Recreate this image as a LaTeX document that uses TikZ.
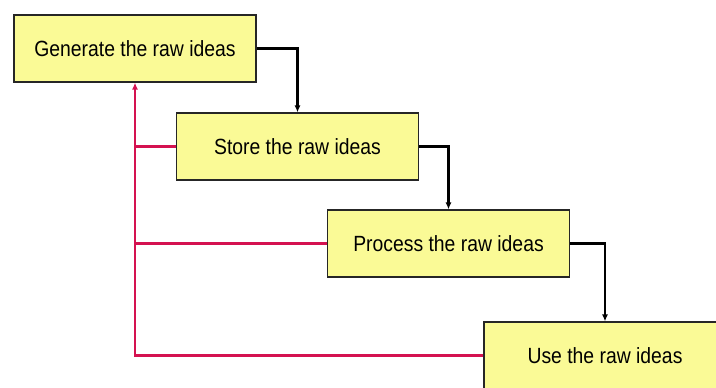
\documentclass[tikz,border=0pt]{standalone}
\usepackage{fontspec}
\setmainfont{Liberation Sans}[FakeStretch=0.88]
\usetikzlibrary{arrows.meta}
\definecolor{boxfill}{RGB}{250,250,150}
\definecolor{loopred}{RGB}{212,18,80}
\tikzset{
  stage/.style={draw=black!85, line width=1.2pt, fill=boxfill,
    minimum width=242pt, minimum height=67pt, inner sep=0pt,
    font=\fontsize{22}{26}\selectfont},
  flow/.style={draw=black, line width=2.3pt, -{Latex[length=7pt,width=6pt]}},
  feedback/.style={draw=loopred, line width=2.6pt},
}
\begin{document}
\begin{tikzpicture}[x=1pt,y=-1pt]
  \useasboundingbox (0,0) rectangle (716,388);
  \clip (0,0) rectangle (716,388);

  % the four stages, stepping down to the right
  \node[stage] (gen)  at (135,48.5)   {Generate the raw ideas};
  \node[stage] (stor) at (297.5,146.5) {Store the raw ideas};
  \node[stage] (proc) at (448.5,243.5) {Process the raw ideas};
  \node[stage] (use)  at (605,355.5)  {Use the raw ideas};

  % forward flow between consecutive stages
  \draw[flow] (gen.east)  -| (stor.north);
  \draw[flow] (stor.east) -| (proc.north);
  \draw[flow] (proc.east) -| (use.north);

  % feedback loop back to idea generation
  \draw[feedback, -{Latex[length=7pt,width=6pt]}] (use.west) -| (gen.south);
  \draw[feedback] (stor.west) -- (stor.west -| gen.south);
  \draw[feedback] (proc.west) -- (proc.west -| gen.south);
\end{tikzpicture}
\end{document}
